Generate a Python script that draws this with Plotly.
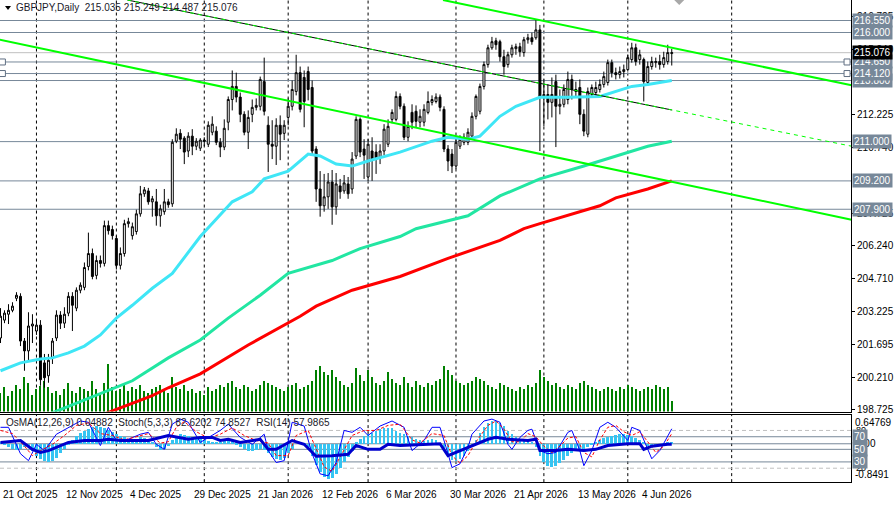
import plotly.graph_objects as go

# ---------------- data ----------------
open_ = [202.00, 202.82, 203.09, 203.27, 203.82, 203.91, 201.86, 201.41, 202.55, 202.32,
         202.59, 200.86, 200.27, 201.09, 202.00, 203.05, 202.68, 203.14, 203.91, 203.37,
         204.19, 204.32, 205.28, 205.87, 204.87, 205.55, 205.42, 207.15, 206.97, 206.56,
         205.33, 205.87, 207.24, 206.69, 206.88, 207.69, 208.61, 208.74, 208.24, 208.24,
         207.60, 207.79, 208.24, 208.15, 211.02, 211.38, 211.16, 210.57, 211.25, 210.79,
         210.70, 211.07, 210.88, 211.43, 211.48, 210.97, 210.75, 211.89, 212.93, 213.53,
         213.04, 212.25, 211.43, 212.25, 212.57, 212.62, 213.75, 211.75, 210.88, 210.79,
         211.75, 211.38, 212.11, 212.62, 213.30, 214.16, 213.94, 214.21, 213.48, 210.66,
         208.83, 208.06, 208.47, 209.15, 208.01, 208.97, 208.74, 209.06, 208.83, 210.34,
         212.02, 210.66, 209.38, 210.57, 210.52, 210.29, 210.57, 210.88, 212.02, 212.02,
         213.07, 212.62, 211.20, 212.34, 212.39, 211.89, 211.89, 212.34, 212.80, 212.84,
         213.04, 212.48, 210.66, 210.43, 209.88, 210.79, 210.97, 210.97, 211.25, 212.16,
         212.39, 213.53, 214.53, 215.30, 215.62, 215.58, 214.89, 214.53, 214.98, 215.26,
         215.35, 215.08, 215.67, 215.76, 215.76, 216.12, 213.07, 213.16, 212.80, 213.75,
         212.62, 212.71, 212.93, 213.85, 213.39, 213.48, 212.25, 211.34, 213.16, 213.25,
         213.39, 213.62, 213.71, 214.62, 214.16, 214.07, 214.21, 214.30, 214.76, 215.30,
         214.76, 214.76, 213.71, 214.44, 214.62, 214.67, 214.53, 214.67, 215.035]
high = [203.37, 203.27, 203.55, 203.64, 204.10, 204.05, 202.00, 203.18, 203.09, 202.82,
        202.82, 201.27, 201.27, 202.00, 203.27, 203.23, 203.41, 204.10, 204.10, 204.32,
        204.55, 205.46, 206.83, 206.10, 205.78, 205.78, 207.38, 207.38, 207.15, 206.69,
        206.15, 207.42, 207.51, 207.29, 207.88, 208.97, 208.92, 208.88, 208.51, 208.83,
        208.11, 208.83, 208.38, 211.11, 211.61, 211.57, 211.25, 211.43, 211.57, 211.16,
        211.16, 211.20, 211.93, 212.16, 211.70, 211.16, 212.02, 213.07, 214.26, 214.16,
        213.25, 212.39, 212.43, 212.93, 212.98, 213.98, 214.85, 212.16, 211.98, 212.07,
        212.20, 211.98, 212.98, 213.80, 214.98, 214.44, 214.26, 214.44, 213.80, 210.79,
        209.65, 209.52, 209.56, 209.70, 209.56, 209.29, 209.47, 209.38, 210.52, 212.16,
        212.11, 211.11, 211.11, 211.20, 210.88, 210.88, 211.80, 212.02, 212.48, 213.30,
        213.21, 212.75, 211.93, 212.71, 212.66, 212.48, 212.71, 213.30, 213.12, 213.21,
        213.16, 212.62, 210.84, 210.66, 211.11, 211.29, 211.38, 211.61, 212.34, 213.16,
        213.66, 214.67, 215.44, 215.80, 215.76, 215.67, 215.21, 215.12, 215.44, 215.49,
        215.53, 215.80, 215.94, 215.99, 216.58, 216.35, 213.85, 213.62, 213.94, 214.07,
        213.39, 213.62, 214.21, 214.07, 213.75, 213.85, 212.48, 213.48, 213.62, 213.75,
        213.85, 214.21, 214.76, 214.76, 214.39, 214.44, 214.53, 214.98, 215.53, 215.49,
        215.21, 214.85, 214.67, 214.89, 214.85, 214.98, 215.12, 215.44, 215.249]
low = [201.77, 202.68, 202.64, 203.18, 203.69, 201.63, 200.50, 200.98, 201.77, 202.14,
       199.81, 199.72, 199.95, 200.81, 201.86, 202.41, 202.46, 203.00, 202.32, 203.23,
       204.05, 204.19, 205.10, 204.69, 204.69, 205.23, 205.28, 206.74, 206.51, 205.14,
       205.14, 205.73, 207.06, 206.51, 206.74, 207.56, 208.47, 208.11, 207.56, 207.15,
       207.10, 207.65, 207.97, 208.01, 210.93, 210.66, 209.97, 210.29, 210.38, 210.61,
       210.57, 210.79, 210.75, 211.29, 210.84, 210.29, 210.61, 211.52, 212.43, 212.80,
       211.89, 211.29, 210.66, 211.89, 212.43, 212.43, 212.20, 209.61, 210.20, 209.93,
       210.15, 211.07, 211.75, 212.43, 213.12, 212.34, 211.66, 212.89, 210.38, 208.24,
       207.56, 207.79, 207.92, 207.19, 207.65, 208.38, 208.61, 208.38, 208.61, 210.20,
       210.29, 209.29, 209.20, 209.20, 209.52, 209.97, 210.38, 210.75, 211.84, 211.93,
       212.48, 211.07, 211.02, 211.57, 211.66, 211.66, 211.70, 212.25, 212.66, 212.75,
       212.39, 210.52, 209.65, 209.56, 209.74, 210.66, 210.84, 210.84, 211.11, 212.02,
       212.25, 213.39, 214.39, 215.21, 215.21, 214.67, 214.07, 214.39, 214.85, 214.98,
       214.89, 214.89, 215.49, 215.44, 215.67, 210.57, 211.70, 212.02, 212.11, 210.75,
       212.25, 212.57, 212.71, 212.93, 213.04, 211.80, 211.25, 211.20, 213.04, 213.12,
       213.25, 213.48, 213.57, 213.94, 213.85, 213.89, 213.94, 214.21, 214.62, 214.48,
       214.53, 212.84, 213.57, 214.30, 214.39, 214.30, 214.39, 214.53, 214.487]
close = [203.00, 203.14, 203.27, 203.46, 203.96, 201.86, 201.41, 202.55, 202.64, 202.59,
         200.09, 200.18, 200.98, 201.86, 203.05, 202.68, 203.09, 203.91, 203.50, 204.19,
         204.42, 205.23, 205.87, 204.82, 205.55, 205.42, 207.15, 206.92, 206.69, 205.33,
         205.87, 207.24, 207.33, 207.10, 207.69, 208.61, 208.79, 208.24, 208.38, 207.60,
         207.92, 208.24, 208.11, 210.97, 211.34, 211.11, 210.52, 211.25, 210.79, 211.02,
         211.07, 211.02, 211.75, 211.80, 210.97, 210.75, 211.61, 212.93, 213.53, 213.04,
         212.25, 211.43, 212.11, 212.57, 212.66, 213.85, 212.39, 210.88, 210.79, 211.75,
         211.34, 211.75, 212.62, 213.39, 214.16, 212.48, 212.84, 213.39, 210.57, 208.83,
         208.06, 208.47, 209.15, 208.01, 209.06, 208.70, 209.11, 208.61, 210.20, 212.02,
         210.52, 210.38, 210.88, 210.20, 210.20, 210.57, 211.57, 211.70, 212.34, 213.07,
         212.62, 211.20, 211.70, 211.89, 211.93, 212.16, 212.48, 212.84, 212.93, 213.04,
         212.57, 210.66, 210.11, 209.88, 210.97, 211.11, 211.20, 211.43, 212.16, 213.07,
         213.53, 214.53, 215.30, 215.58, 215.44, 214.89, 214.44, 214.98, 215.30, 215.35,
         215.12, 215.67, 215.76, 215.58, 216.12, 213.07, 213.16, 212.80, 213.16, 212.62,
         212.71, 213.39, 213.85, 213.39, 213.30, 212.25, 211.48, 213.30, 213.48, 213.48,
         213.62, 213.98, 214.62, 214.16, 214.07, 214.21, 214.30, 214.85, 215.30, 214.67,
         214.98, 213.75, 214.44, 214.67, 214.67, 214.53, 214.85, 215.08, 215.076]
volume = [18, 24, 15, 20, 26, 22, 34, 28, 16, 22, 25, 30, 24, 18, 20, 16, 22, 28, 20, 18,
          24, 22, 20, 30, 22, 18, 28, 46, 24, 20, 22, 26, 20, 24, 22, 26, 20, 18, 22, 24,
          26, 20, 18, 34, 24, 22, 26, 20, 22, 18, 20, 16, 24, 20, 22, 26, 24, 28, 30, 24,
          22, 26, 24, 20, 22, 26, 30, 28, 26, 24, 22, 20, 24, 26, 28, 22, 24, 26, 30, 40,
          44, 38, 36, 40, 34, 30, 26, 24, 28, 42, 36, 30, 40, 34, 28, 26, 30, 38, 32, 28,
          26, 34, 28, 24, 30, 26, 24, 28, 26, 30, 32, 44, 40, 36, 30, 28, 26, 28, 30, 34,
          32, 30, 26, 24, 22, 28, 26, 24, 22, 20, 24, 22, 26, 24, 28, 40, 34, 30, 26, 28,
          24, 22, 26, 24, 22, 28, 30, 26, 24, 22, 20, 22, 24, 22, 20, 24, 22, 26, 24, 22,
          20, 22, 24, 22, 26, 24, 22, 24, 10]

# moving averages (read at sample bars)
ma_fast_x = [0, 5, 10, 13, 17, 21, 25, 29, 33, 38, 43, 50, 58, 63, 66, 72, 77, 80, 84, 88,
             92, 100, 108, 112, 117, 120, 125, 129, 135, 142, 150, 154, 158, 162, 168]
ma_fast_y = [200.50, 200.86, 201.04, 201.09, 201.32, 201.63, 202.14, 202.91, 203.50, 204.28,
             204.96, 206.65, 208.24, 208.70, 209.29, 209.65, 210.43, 210.34, 209.97, 209.88,
             210.11, 210.52, 211.02, 211.20, 211.11, 211.25, 212.16, 212.62, 213.03, 213.03,
             213.07, 213.30, 213.53, 213.62, 213.80]
ma_mid_x = [12, 24, 33, 42, 50, 57, 65, 72, 78, 83, 90, 100, 104, 117, 125, 135, 146, 154, 162, 168]
ma_mid_y = [198.50, 199.36, 200.04, 201.09, 201.91, 202.91, 203.96, 204.96, 205.28, 205.55,
            206.10, 206.65, 207.01, 207.60, 208.51, 209.29, 209.88, 210.34, 210.79, 211.02]
ma_slow_x = [25, 29, 38, 42, 50, 62, 75, 79, 88, 100, 112, 125, 131, 135, 150, 154, 162, 168]
ma_slow_y = [198.45, 198.72, 199.36, 199.72, 200.36, 201.68, 203.00, 203.46, 204.19, 204.82,
             205.65, 206.47, 207.01, 207.24, 208.06, 208.42, 208.83, 209.20]

# trend lines (anchor bar, price)
tl_upper_x = [110.75, 213]
tl_upper_y = [217.49, 213.58]
tl_lower_x = [-0.2, 213]
tl_lower_y = [215.67, 207.42]
tl_mid_x = [31.75, 213]
tl_mid_y = [217.49, 210.79]
tl_mid_solid_x = [31.75, 168]
tl_mid_solid_y = [217.49, 212.45]

levels = [216.55, 216.00, 214.65, 214.12, 213.80, 211.00, 209.20, 207.90]
level_labels = ["216.550", "216.000", "214.650", "214.120", "213.800", "211.000", "209.200", "207.900"]
last_price = 215.076
price_ticks = [198.725, 200.210, 201.695, 203.225, 204.710, 206.240, 207.725,
               210.740, 212.225, 215.240, 216.725]
price_tick_text = ["198.725", "200.210", "201.695", "203.225", "204.710", "206.240", "207.725",
                   "210.740", "212.225", "215.240", "216.725"]

date_bars = [0, 16, 32, 48, 64, 80, 96, 112, 128, 144, 160]
date_labels = ["21 Oct 2025", "12 Nov 2025", "4 Dec 2025", "29 Dec 2025", "21 Jan 2026",
               "12 Feb 2026", "6 Mar 2026", "30 Mar 2026", "21 Apr 2026", "13 May 2026", "4 Jun 2026"]
month_grid = [9, 29, 51, 72, 92, 114, 136, 157, 183]

osma = [0.05, 0.03,
        -0.05, -0.10, -0.12, -0.10,
        -0.05, -0.02,
        -0.15, -0.25, -0.33, -0.38, -0.40, -0.36, -0.30, -0.20, -0.10,
        0.02, 0.10, 0.18, 0.25, 0.30, 0.34, 0.38, 0.40, 0.38, 0.36, 0.32, 0.28, 0.22,
        0.18, 0.15, 0.12, 0.10, 0.12, 0.15, 0.14, 0.10, 0.05, -0.05, -0.12,
        -0.10, -0.02, 0.10, 0.18, 0.22, 0.20, 0.18, 0.15, 0.14, 0.12,
        0.10, 0.08, 0.06, 0.05, 0.06, 0.08, 0.10, 0.08, 0.04,
        -0.05, -0.10, -0.15, -0.16, -0.12, -0.10, -0.12,
        -0.20, -0.28, -0.33, -0.35, -0.30, -0.20,
        -0.10, 0.00, 0.05, 0.02, -0.05,
        -0.25, -0.45, -0.62, -0.72, -0.76, -0.74, -0.65, -0.52, -0.40, -0.28, -0.15,
        0.05, 0.12, 0.18, 0.22, 0.26, 0.30, 0.33, 0.36, 0.37, 0.35, 0.30, 0.26, 0.22, 0.18, 0.15, 0.12,
        0.10, 0.08, 0.10, 0.12, 0.10, 0.02, -0.15, -0.28,
        -0.35, -0.36, -0.32, -0.25, -0.15, -0.05,
        0.10, 0.25, 0.38, 0.46, 0.52, 0.52, 0.48, 0.40, 0.30,
        0.22, 0.16, 0.12, 0.10, 0.08, 0.06,
        -0.05, -0.25, -0.40, -0.48, -0.50, -0.48, -0.42, -0.35,
        -0.25, -0.20, -0.15, -0.12, -0.10, -0.05,
        0.02, 0.06, 0.10, 0.14, 0.17, 0.19, 0.21, 0.22, 0.22, 0.21, 0.18, 0.14, 0.10, 0.05,
        -0.02, -0.05, -0.03, 0.00, 0.02, 0.04, 0.04882]

stoch_x = [0, 2, 5, 7, 9, 11, 14, 17, 20, 22, 25, 27, 29, 32, 35, 37, 39, 41, 43, 45, 47, 50,
           52, 55, 57, 60, 63, 66, 67, 69, 71, 73, 76, 78, 80, 82, 84, 86, 88, 90, 92, 95, 98,
           101, 103, 106, 108, 110, 112, 113, 115, 117, 118, 121, 123, 125, 127, 128, 130, 132,
           133, 135, 137, 139, 142, 143, 145, 146, 148, 150, 152, 154, 157, 158, 160, 162, 163,
           165, 168]
stoch_main = [85, 85, 43, 32, 58, 48, 74, 85, 95, 93, 56, 85, 64, 66, 74, 77, 58, 50, 90, 98,
              93, 61, 69, 80, 90, 69, 58, 74, 48, 29, 32, 93, 87, 43, 11, 8, 29, 80, 77, 85, 72,
              87, 95, 85, 48, 64, 85, 85, 43, 21, 27, 53, 74, 95, 98, 93, 58, 50, 69, 80, 82, 48,
              43, 45, 77, 80, 48, 24, 48, 85, 93, 85, 64, 85, 80, 48, 35, 48, 82.62]
signal_x = [0, 3, 6, 8, 10, 13, 16, 19, 22, 25, 28, 31, 34, 37, 40, 42, 44, 46, 49, 52, 55, 58,
            61, 64, 67, 69, 72, 74, 77, 79, 81, 83, 86, 88, 91, 94, 97, 100, 103, 105, 108, 111,
            113, 115, 117, 119, 122, 124, 126, 128, 130, 132, 134, 136, 138, 140, 142, 144, 146,
            148, 150, 152, 154, 156, 158, 160, 162, 164, 166, 168]
stoch_signal = [80, 75, 55, 40, 48, 58, 72, 88, 92, 75, 72, 65, 70, 75, 60, 62, 85, 94, 78, 68,
                74, 84, 72, 64, 60, 40, 40, 72, 80, 50, 22, 15, 50, 72, 80, 80, 88, 90, 65, 60,
                75, 72, 40, 28, 40, 62, 88, 95, 82, 62, 62, 75, 70, 55, 45, 55, 68, 70, 45, 38,
                65, 85, 88, 78, 72, 78, 62, 45, 55, 74.85]
rsi_x = [0, 5, 8, 10, 12, 17, 21, 25, 27, 30, 37, 42, 47, 50, 53, 55, 57, 60, 65, 67, 69, 73,
         76, 79, 83, 87, 89, 92, 95, 97, 100, 105, 110, 112, 115, 118, 122, 124, 127, 132, 134,
         135, 139, 142, 146, 149, 152, 157, 160, 161, 163, 167, 168]
rsi = [61, 64, 50, 45, 48, 61, 64, 64, 66, 64, 64, 72, 66, 69, 69, 64, 66, 61, 66, 50, 50, 64,
       58, 39, 40, 42, 56, 50, 50, 58, 56, 58, 59, 40, 48, 56, 66, 69, 66, 64, 66, 48, 48, 50,
       48, 50, 56, 59, 59, 50, 55, 58, 57.99]

# ---------------- layout constants ----------------
W, H = 894, 506
PLOT_R = 852
MAIN_BOTTOM = 414
IND_TOP, IND_BOTTOM = 417, 485
X_RANGE = [-0.125, -0.125 + PLOT_R / 4]
PRICE_RANGE = [198.63, 217.49]
FONT = "Liberation Sans"
LVL_COLOR = "#778899"

bars = list(range(len(close)))
xd = PLOT_R / W
main_dom = [(H - MAIN_BOTTOM) / H, 1.0]
ind_dom = [(H - IND_BOTTOM) / H, (H - IND_TOP) / H]

fig = go.Figure()

# volume (base axis)
fig.add_trace(go.Bar(x=bars, y=volume, marker=dict(color="#008000", line=dict(width=0)),
                     width=0.28, xaxis="x", yaxis="y", hoverinfo="skip"))

# candles
fig.add_trace(go.Candlestick(
    x=bars, open=open_, high=high, low=low, close=close, xaxis="x", yaxis="y2",
    increasing=dict(line=dict(color="black", width=1), fillcolor="white"),
    decreasing=dict(line=dict(color="black", width=1), fillcolor="black"),
    whiskerwidth=0, hoverinfo="skip"))

# moving averages
fig.add_trace(go.Scatter(x=ma_slow_x, y=ma_slow_y, mode="lines", line=dict(color="#FF0000", width=3),
                         xaxis="x", yaxis="y2", hoverinfo="skip"))
fig.add_trace(go.Scatter(x=ma_mid_x, y=ma_mid_y, mode="lines", line=dict(color="#22E6A2", width=3),
                         xaxis="x", yaxis="y2", hoverinfo="skip"))
fig.add_trace(go.Scatter(x=ma_fast_x, y=ma_fast_y, mode="lines", line=dict(color="#3FE6F6", width=3),
                         xaxis="x", yaxis="y2", hoverinfo="skip"))

# trend lines
fig.add_trace(go.Scatter(x=tl_upper_x, y=tl_upper_y, mode="lines", line=dict(color="#00FF00", width=2),
                         xaxis="x", yaxis="y2", hoverinfo="skip"))
fig.add_trace(go.Scatter(x=tl_lower_x, y=tl_lower_y, mode="lines", line=dict(color="#00FF00", width=2),
                         xaxis="x", yaxis="y2", hoverinfo="skip"))
fig.add_trace(go.Scatter(x=tl_mid_solid_x, y=tl_mid_solid_y, mode="lines", line=dict(color="#000000", width=1),
                         xaxis="x", yaxis="y2", hoverinfo="skip"))
fig.add_trace(go.Scatter(x=tl_mid_x, y=tl_mid_y, mode="lines",
                         line=dict(color="#00FF00", width=1, dash="4px,4px"),
                         xaxis="x", yaxis="y2", hoverinfo="skip"))

# small squares on two levels
sq_x = [X_RANGE[0] + 0.6, X_RANGE[0] + 0.6, X_RANGE[1] - 1.0, X_RANGE[1] - 1.0]
sq_y = [levels[2], levels[3], levels[2], levels[3]]
fig.add_trace(go.Scatter(x=sq_x, y=sq_y, mode="markers", xaxis="x", yaxis="y2", cliponaxis=False,
                         marker=dict(symbol="square", size=6, color="white",
                                     line=dict(color="#5F6E82", width=1)), hoverinfo="skip"))

# ---------------- indicator panel ----------------
fig.add_trace(go.Bar(x=bars, y=osma, marker=dict(color="#35C4F2", line=dict(width=0)), width=0.7,
                     xaxis="x2", yaxis="y3", hoverinfo="skip"))
fig.add_trace(go.Scatter(x=stoch_x, y=stoch_main, mode="lines", line=dict(color="#0000FF", width=1),
                         xaxis="x2", yaxis="y4", hoverinfo="skip"))
fig.add_trace(go.Scatter(x=signal_x, y=stoch_signal, mode="lines",
                         line=dict(color="#FF0000", width=1, dash="3px,2px"),
                         xaxis="x2", yaxis="y4", hoverinfo="skip"))
fig.add_trace(go.Scatter(x=rsi_x, y=rsi, mode="lines", line=dict(color="#0000CD", width=3),
                         xaxis="x2", yaxis="y4", hoverinfo="skip"))

shapes = []
# vertical dotted grid
for g in month_grid:
    shapes.append(dict(type="line", xref="x", yref="paper", x0=g, x1=g, y0=main_dom[0], y1=1,
                       line=dict(color="black", width=1, dash="3px,3px"), layer="below"))
    shapes.append(dict(type="line", xref="x", yref="paper", x0=g, x1=g, y0=ind_dom[0], y1=ind_dom[1],
                       line=dict(color="black", width=1, dash="3px,3px"), layer="below"))
# horizontal levels
for lv in levels:
    shapes.append(dict(type="line", xref="paper", yref="y2", x0=0, x1=xd, y0=lv, y1=lv,
                       line=dict(color=LVL_COLOR, width=1), layer="below"))
shapes.append(dict(type="line", xref="paper", yref="y2", x0=0, x1=xd, y0=last_price, y1=last_price,
                   line=dict(color="#C0C0C0", width=1), layer="below"))
# indicator levels
for lv, col, dsh in [(80, "#C0C0C0", "4px,3px"), (70, LVL_COLOR, "solid"), (50, LVL_COLOR, "solid"),
                     (30, LVL_COLOR, "solid"), (20, "#C0C0C0", "4px,3px")]:
    shapes.append(dict(type="line", xref="paper", yref="y4", x0=0, x1=xd, y0=lv, y1=lv,
                       line=dict(color=col, width=1, dash=dsh), layer="below"))
shapes.append(dict(type="line", xref="paper", yref="y3", x0=0, x1=xd, y0=0, y1=0,
                   line=dict(color=LVL_COLOR, width=1), layer="below"))
# header triangle and chart-shift marker
shapes.append(dict(type="path", xref="paper", yref="paper",
                   path=f"M {5/W},{1-6/H} L {11/W},{1-6/H} L {8/W},{1-10/H} Z",
                   fillcolor="black", line=dict(width=0)))
shapes.append(dict(type="path", xref="paper", yref="paper",
                   path=f"M {675/W},1 L {685/W},1 L {680/W},{1-5/H} Z",
                   fillcolor="#A8A8A8", line=dict(width=0)))

ann = []
ann.append(dict(text="GBPJPY,Daily  215.035 215.249 214.487 215.076", xref="paper", yref="paper",
                x=14 / W, y=1 - 8 / H, xanchor="left", yanchor="middle", showarrow=False,
                font=dict(family=FONT, size=10, color="#1A1A2A")))
ann.append(dict(text="OsMA(12,26,9) 0.04882  Stoch(5,3,3) 82.6202 74.8527  RSI(14) 57.9865",
                xref="paper", yref="paper", x=4 / W, y=1 - 425 / H, xanchor="left", yanchor="middle",
                showarrow=False, font=dict(family=FONT, size=10, color="#1A1A2A")))
for b, t in zip(date_bars, date_labels):
    ann.append(dict(text=t, xref="x", yref="paper", x=b, y=1 - 497 / H, xanchor="left",
                    yanchor="middle", showarrow=False, font=dict(family=FONT, size=10, color="black")))
# price level boxes (draw 213.800 before 214.120 so it is covered)
order = [0, 1, 4, 3, 2, 5, 6, 7]
for k in order:
    ann.append(dict(text=level_labels[k], xref="paper", yref="y2", x=(PLOT_R + 1) / W, y=levels[k],
                    xanchor="left", yanchor="middle", showarrow=False, bgcolor=LVL_COLOR, borderpad=1,
                    font=dict(family=FONT, size=10, color="white")))
ann.append(dict(text=f"{last_price:.3f}", xref="paper", yref="y2", x=(PLOT_R + 1) / W, y=last_price,
                xanchor="left", yanchor="middle", showarrow=False, bgcolor="black", borderpad=1,
                font=dict(family=FONT, size=10, color="white")))
# indicator scale labels
ann.append(dict(text="0.64769", xref="paper", yref="y3", x=(PLOT_R + 2) / W, y=0.64769, xanchor="left",
                yanchor="top", showarrow=False, font=dict(family=FONT, size=10, color="black")))
ann.append(dict(text="-0.8491", xref="paper", yref="y3", x=(PLOT_R + 2) / W, y=-0.8491, xanchor="left",
                yanchor="bottom", showarrow=False, font=dict(family=FONT, size=10, color="black")))
ann.append(dict(text="80", xref="paper", yref="y4", x=(PLOT_R + 3) / W, y=80, xanchor="left",
                yanchor="middle", showarrow=False, font=dict(family=FONT, size=9, color="black")))
ann.append(dict(text="20", xref="paper", yref="y4", x=(PLOT_R + 3) / W, y=20, xanchor="left",
                yanchor="middle", showarrow=False, font=dict(family=FONT, size=9, color="black")))
ann.append(dict(text="0.00", xref="paper", yref="y3", x=(PLOT_R + 3) / W, y=0, xanchor="left",
                yanchor="middle", showarrow=False, font=dict(family=FONT, size=10, color="black")))
for lv in [70, 50, 30]:
    ann.append(dict(text=str(lv), xref="paper", yref="y4", x=(PLOT_R + 1) / W, y=lv, xanchor="left",
                    yanchor="middle", showarrow=False, bgcolor=LVL_COLOR, borderpad=1,
                    font=dict(family=FONT, size=10, color="white")))

fig.update_layout(
    width=W, height=H, margin=dict(l=0, r=0, t=0, b=0, pad=0),
    paper_bgcolor="white", plot_bgcolor="white", showlegend=False, bargap=0,
    xaxis=dict(domain=[0, xd], range=X_RANGE, anchor="y", showticklabels=False, showgrid=False,
               zeroline=False, showline=True, linecolor="black", linewidth=1, ticks="",
               rangeslider=dict(visible=False), fixedrange=True),
    xaxis2=dict(domain=[0, xd], range=X_RANGE, anchor="y3", matches="x", showticklabels=False,
                showgrid=False, zeroline=False, showline=True, mirror=True, linecolor="black",
                linewidth=1, ticks="", rangeslider=dict(visible=False)),
    yaxis=dict(domain=main_dom, range=[0, 400], visible=False, fixedrange=True),
    yaxis2=dict(overlaying="y", side="right", range=PRICE_RANGE, anchor="x", showgrid=False,
                zeroline=False, showline=True, linecolor="black", linewidth=1,
                tickvals=price_ticks, ticktext=price_tick_text, ticks="outside", ticklen=3,
                tickcolor="black", tickfont=dict(family=FONT, size=10, color="black")),
    yaxis3=dict(domain=ind_dom, range=[-0.8491, 0.64769], anchor="x2", showticklabels=False,
                showgrid=False, zeroline=False, showline=True, mirror=True, linecolor="black",
                linewidth=1, ticks=""),
    yaxis4=dict(overlaying="y3", range=[-2.1, 105.3], visible=False),
    shapes=shapes, annotations=ann,
)

fig.write_html("out.html")
